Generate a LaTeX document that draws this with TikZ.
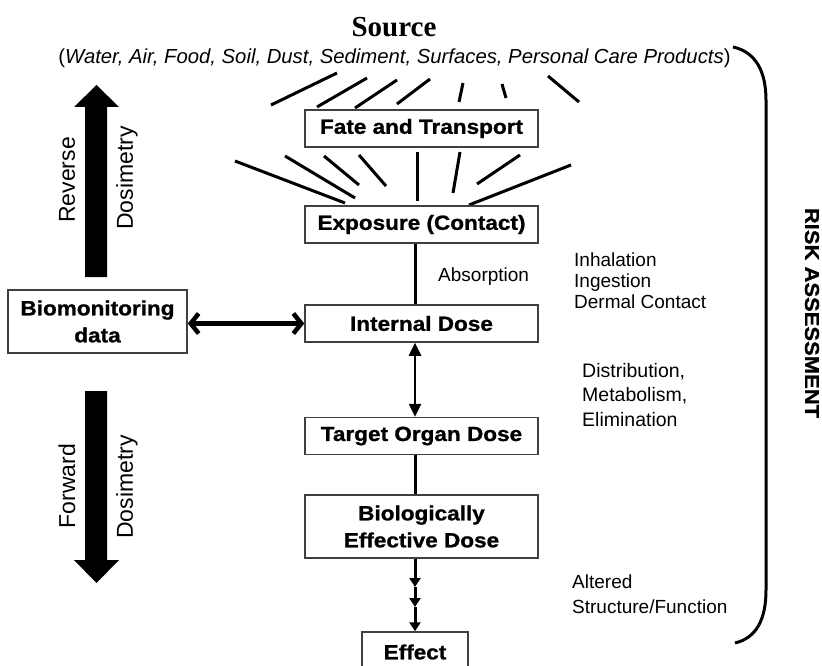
\documentclass[tikz,border=0pt]{standalone}
\usepackage{fontspec}
\setmainfont{Liberation Sans}
\newfontfamily\serifbf{Liberation Serif}
\newfontfamily\boxfont[FakeStretch=1.1,FakeBold=1]{Liberation Sans}
\usetikzlibrary{arrows.meta}
\begin{document}
\begin{tikzpicture}[x=1pt,y=-1pt,
  box/.style={draw=black!75, line width=1.5pt, fill=white, minimum width=233pt,
    minimum height=37pt, inner sep=0pt, align=center,
    font=\boxfont\bfseries\fontsize{20.5}{27}\selectfont},
  lbl/.style={inner sep=0pt, align=left, font=\fontsize{19}{21}\selectfont},
  side/.style={rotate=90, inner sep=0pt, font=\fontsize{23}{26}\selectfont},
  ray/.style={line width=3pt},
  conn/.style={line width=3pt},
  tipA/.style={-{Triangle[length=9pt,width=11pt]}}
]
\useasboundingbox (0,0) rectangle (822,666);

% title
\node[inner sep=0pt, font=\serifbf\bfseries\fontsize{29}{32}\selectfont] (src) at (394,27) {Source};
\node[inner sep=0pt, font=\fontsize{20.3}{24}\selectfont] (srclist) at (394.5,58)
  {(\textit{Water, Air, Food, Soil, Dust, Sediment, Surfaces, Personal Care Products})};

% rays from source to fate
\draw[ray] (271,105) -- (337,73);
\draw[ray] (317,107) -- (367,78);
\draw[ray] (355,108) -- (397,80);
\draw[ray] (397,104) -- (430,79);
\draw[ray] (459,102) -- (463,83);
\draw[ray] (502,84) -- (506,98);
\draw[ray] (548,76) -- (579,102);

% rays towards exposure
\draw[ray] (235,161) -- (345,203);
\draw[ray] (285,156) -- (355,198);
\draw[ray] (324,156) -- (359,185);
\draw[ray] (359,155) -- (386,186);
\draw[ray] (417,152) -- (417,201);
\draw[ray] (460,152) -- (453,193);
\draw[ray] (520,155) -- (477,184);
\draw[ray] (571,165) -- (469,205);

% boxes
\node[box] (fate) at (421.5,128.5) {Fate and Transport};
\node[box] (expo) at (421.5,224.5) {Exposure (Contact)};
\node[box] (int) at (421.5,323.5) {Internal Dose};
\node[box] (tod) at (421.5,436) {Target Organ Dose};
\node[box, minimum height=63pt] (bed) at (421.5,526.5) {Biologically\\Effective Dose};
\node[box, minimum width=106pt, minimum height=40pt] (eff) at (415,652) {Effect};
\node[box, minimum width=179pt, minimum height=63pt] (bio) at (97.5,321.5) {Biomonitoring\\data};

% connectors
\coordinate (vx) at (415,0);
\coordinate (m1) at (415,587);
\coordinate (m2) at (415,607);
\draw[conn] (expo.south -| vx) -- (int.north -| vx);
\draw[line width=2.5pt, {Triangle[length=13pt,width=12pt]}-{Triangle[length=13pt,width=12pt]}]
  (int.south -| vx) -- (tod.north -| vx);
\draw[conn] (tod.south -| vx) -- (bed.north -| vx);
\draw[conn, tipA] (bed.south -| vx) -- (m1);
\draw[conn, tipA] (m1) -- (m2);
\draw[conn, tipA] (m2) -- (eff.north);
\draw[line width=4.5pt, {Straight Barb[length=8pt,width=20pt]}-{Straight Barb[length=8pt,width=20pt]}]
  (int.west -| bio.east) -- (int.west);

% side labels
\node[lbl, anchor=west] (abs) at (438,277) {Absorption};
\node[lbl, anchor=north west] (routes) at (574,253) {Inhalation\\Ingestion\\Dermal Contact};
\node[lbl, anchor=north west, font=\fontsize{19.5}{24.5}\selectfont] (dme) at (582,363) {Distribution,\\Metabolism,\\Elimination};
\node[lbl, anchor=north west, font=\fontsize{19}{25}\selectfont] (alt) at (572,575) {Altered\\Structure/Function};

% dosimetry arrows
\fill (85,277) -- (85,107) -- (74,107) -- (96.5,85) -- (119,107) -- (107,107) -- (107,277) -- cycle;
\fill (85,391) -- (85,560) -- (74,560) -- (96.5,583) -- (119,560) -- (107,560) -- (107,391) -- cycle;
\node[side] (rev) at (67,180) {Reverse};
\node[side] (dos1) at (127,178) {Dosimetry};
\node[side] (fwd) at (67,486) {Forward};
\node[side] (dos2) at (127,487) {Dosimetry};

% risk assessment bracket
\draw[line width=3pt] (733,47) .. controls (756,52) and (766,72) .. (766,100) -- (766,590)
  .. controls (766,620) and (756,638) .. (735,643);
\node[rotate=-90, inner sep=0pt, font=\boxfont\bfseries\fontsize{20}{24}\selectfont] (risk) at (812,313) {RISK ASSESSMENT};
\end{tikzpicture}
\end{document}
